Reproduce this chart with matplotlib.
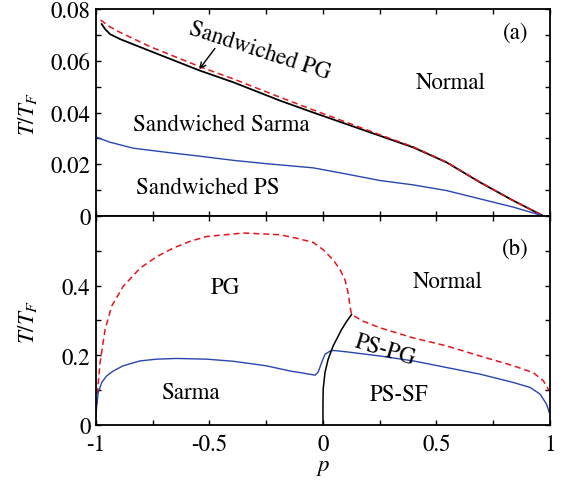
import matplotlib
matplotlib.use('Agg')
from matplotlib import pyplot as plt
from matplotlib.ticker import MultipleLocator

plt.rcParams['font.family'] = ['STIXGeneral', 'DejaVu Serif']
plt.rcParams['mathtext.fontset'] = 'stix'

# panel (a): sandwiched phases
a_black_p = [-0.975, -0.960, -0.938, -0.894, -0.762, -0.542, -0.395, -0.189, -0.043, 0.104, 0.251, 0.398, 0.545, 0.692, 0.839, 0.971]
a_black_T = [0.0742, 0.0723, 0.0703, 0.0684, 0.0638, 0.0562, 0.0517, 0.0446, 0.0400, 0.0355, 0.0310, 0.0265, 0.0207, 0.0130, 0.0059, 0.0]
a_red_p = [-0.98, -0.94, -0.894, -0.762, -0.542, -0.395, -0.189, -0.043, 0.104, 0.251, 0.398, 0.545, 0.692, 0.839, 0.971]
a_red_T = [0.0758, 0.0732, 0.0710, 0.0655, 0.0577, 0.0530, 0.0459, 0.0410, 0.0362, 0.0314, 0.0267, 0.0208, 0.0131, 0.0059, 0.0]
a_blue_p = [-1.0, -0.938, -0.836, -0.689, -0.542, -0.395, -0.248, -0.043, 0.104, 0.251, 0.398, 0.545, 0.692, 0.839, 0.971]
a_blue_T = [0.0305, 0.0285, 0.0262, 0.0246, 0.0231, 0.0215, 0.0202, 0.0186, 0.0162, 0.0137, 0.0120, 0.0098, 0.0066, 0.0034, 0.0]

# panel (b)
b_red_p = [-0.996, -0.994, -0.982, -0.960, -0.931, -0.880, -0.806, -0.733, -0.659, -0.586, -0.512, -0.35, -0.19, -0.116, -0.043, 0.001, 0.045, 0.075,
           0.097, 0.111, 0.119, 0.126, 0.177, 0.251, 0.398, 0.545, 0.692, 0.839, 0.927, 0.971, 0.997]
b_red_T = [0.060, 0.093, 0.179, 0.274, 0.341, 0.398, 0.450, 0.483, 0.508, 0.527, 0.541, 0.551, 0.546, 0.536, 0.524, 0.503, 0.474, 0.446,
           0.417, 0.379, 0.341, 0.317, 0.298, 0.279, 0.250, 0.227, 0.198, 0.170, 0.150, 0.127, 0.098]
b_blue_p = [-1.0, -0.997, -0.990, -0.975, -0.953, -0.924, -0.880, -0.806, -0.733, -0.645, -0.512, -0.396, -0.25, -0.145, -0.087, -0.035, -0.021, -0.006,
            0.009, 0.031, 0.045, 0.104, 0.251, 0.398, 0.545, 0.692, 0.839, 0.912, 0.956, 0.985, 0.997]
b_blue_T = [0.025, 0.055, 0.093, 0.122, 0.141, 0.155, 0.170, 0.184, 0.189, 0.191, 0.189, 0.183, 0.170, 0.155, 0.149, 0.143, 0.152, 0.179,
            0.203, 0.212, 0.214, 0.210, 0.198, 0.184, 0.165, 0.146, 0.122, 0.108, 0.089, 0.060, 0.036]
b_black_p = [0.0, 0.0, 0.001, 0.009, 0.023, 0.045, 0.082, 0.105, 0.126]
b_black_T = [0.0, 0.06, 0.103, 0.151, 0.189, 0.227, 0.274, 0.298, 0.317]

fs = 16.5
fig = plt.figure(figsize=(5.66, 4.81), dpi=100)
ax1 = fig.add_axes([0.1696, 0.549, 0.802, 0.430])
ax2 = fig.add_axes([0.1696, 0.1143, 0.802, 0.4347])

red = '#e8141c'
blue = '#2a45b0'

ax1.plot(a_black_p, a_black_T, color='k', lw=1.3)
ax1.plot(a_red_p, a_red_T, color=red, lw=1.1, dashes=(4, 2.5))
ax1.plot(a_blue_p, a_blue_T, color=blue, lw=1.0)
ax1.set_ylim(0, 0.08)
ax1.yaxis.set_minor_locator(MultipleLocator(0.01))
ax1.set_yticks([0, 0.02, 0.04, 0.06, 0.08], ['0', '0.02', '0.04', '0.06', '0.08'])
ax1.tick_params(labelbottom=False)

ax2.plot(b_red_p, b_red_T, color=red, lw=1.1, dashes=(4, 2.5))
ax2.plot(b_blue_p, b_blue_T, color=blue, lw=1.0)
ax2.plot(b_black_p, b_black_T, color='k', lw=1.1)
ax2.set_ylim(0, 0.6)
ax2.yaxis.set_minor_locator(MultipleLocator(0.1))
ax2.set_yticks([0, 0.2, 0.4], ['0', '0.2', '0.4'])
ax2.set_xticks([-1, -0.5, 0, 0.5, 1], ['-1', '-0.5', '0', '0.5', '1'])

for ax in (ax1, ax2):
    ax.set_xlim(-1, 1)
    ax.xaxis.set_minor_locator(MultipleLocator(0.25))
    ax.tick_params(which='both', direction='in', top=True, right=True, labelsize=fs,
                   width=1.0, length=3.8, pad=4)
    for s in ax.spines.values():
        s.set_linewidth(1.3)
    ax.set_ylabel(r'$T/T_F$', fontsize=fs)
    ax.yaxis.set_label_coords(-0.125, 0.5)

ax2.tick_params(axis='x', pad=6)
ax2.set_xlabel(r'$p$', fontsize=fs, labelpad=0.5)

# panel (a) labels
ax1.text(0.848, 0.0711, '(a)', fontsize=fs, ha='center', va='center')
ax1.text(0.564, 0.0518, 'Normal', fontsize=fs, ha='center', va='center')
ax1.text(-0.447, 0.0356, 'Sandwiched Sarma', fontsize=fs, ha='center', va='center')
ax1.text(-0.507, 0.0112, 'Sandwiched PS', fontsize=fs, ha='center', va='center')
ax1.text(-0.278, 0.0642, 'Sandwiched PG', fontsize=fs, ha='center', va='center', rotation=-18)
ax1.annotate('', xy=(-0.545, 0.0567), xytext=(-0.476, 0.0648),
             arrowprops=dict(arrowstyle='->', color='k', lw=1.0, shrinkA=0, shrinkB=0))

# panel (b) labels
ax2.text(0.848, 0.508, '(b)', fontsize=fs, ha='center', va='center')
ax2.text(0.551, 0.411, 'Normal', fontsize=fs, ha='center', va='center')
ax2.text(-0.432, 0.394, 'PG', fontsize=fs, ha='center', va='center')
ax2.text(-0.586, 0.094, 'Sarma', fontsize=fs, ha='center', va='center')
ax2.text(0.273, 0.217, 'PS-PG', fontsize=fs, ha='center', va='center', rotation=-17)
ax2.text(0.337, 0.089, 'PS-SF', fontsize=fs, ha='center', va='center')

plt.savefig('out.png', dpi=100)
